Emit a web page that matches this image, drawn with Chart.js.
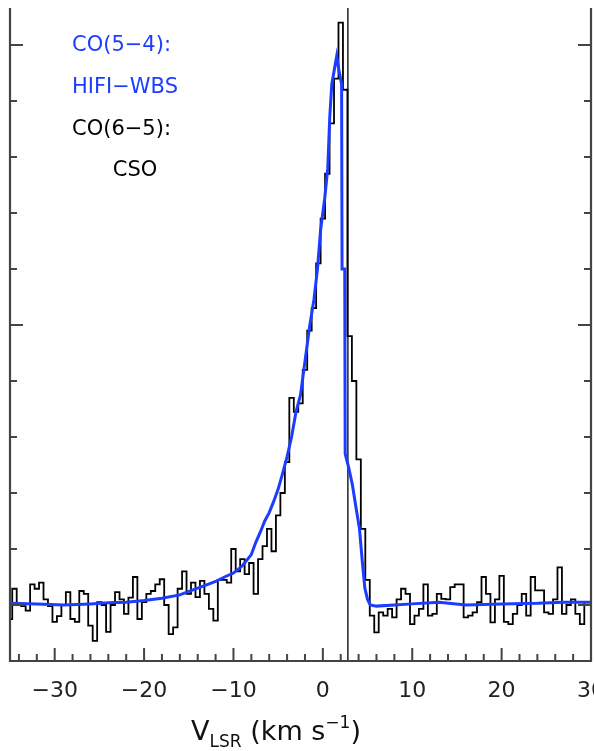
<!DOCTYPE html>
<html><head><meta charset="utf-8">
<script src="https://cdn.jsdelivr.net/npm/chart.js@4.4.1/dist/chart.umd.min.js"></script>
<style>html,body{margin:0;padding:0;background:#fff;}#wrap{width:594px;height:751px;position:relative;}</style>
</head><body><div id="wrap"><canvas id="c" width="594" height="751"></canvas></div>
<script>
// CSO CO(6-5) spectrum: channel grid start and width (km/s), intensities per channel
const csoStartVelocity = -35;
const csoChannelWidth = 0.5;
const csoIntensity = [
 -0.25, 0.29, 0.0, -0.02, -0.1, 0.37, 0.29, 0.4, 0.1, -0.02,
 -0.3, -0.2, 0.0, 0.23, -0.25, -0.3, 0.25, 0.2, -0.37, -0.64,
 0.05, 0.0, -0.48, 0.0, 0.23, 0.1, -0.16, 0.13, 0.5, -0.25,
 0.05, 0.2, 0.25, 0.37, 0.46, 0.0, -0.52, -0.4, 0.29, 0.6,
 0.2, 0.4, 0.14, 0.43, 0.2, -0.07, -0.28, 0.45, 0.45, 0.4,
 1.0, 0.6, 0.82, 0.55, 0.75, 0.2, 0.82, 1.05, 1.36, 0.96,
 1.6, 2.0, 2.55, 3.7, 3.45, 3.6, 4.2, 4.9, 5.3, 6.1,
 6.9, 7.7, 8.6, 9.4, 10.4, 9.2, 4.8, 4.0, 2.6, 1.36,
 0.45, -0.19, -0.49, -0.13, -0.19, -0.07, -0.22, 0.1, 0.29, 0.2,
 -0.34, -0.19, -0.07, 0.37, -0.19, -0.16, 0.2, 0.11, 0.1, 0.32,
 0.37, 0.37, -0.22, -0.19, -0.13, 0.05, 0.5, 0.2, -0.31, 0.1,
 0.52, -0.3, -0.34, -0.16, 0.0, 0.2, -0.19, 0.5, 0.26, 0.26,
 -0.13, -0.16, 0.1, 0.67, -0.16, 0.0, 0.1, -0.16, -0.34, 0.05,
 0.05
];
// HIFI-WBS CO(5-4) spectrum
const hifiVelocity = [-35,-32,-29,-26,-24,-22,-20,-18,-16,-14,-13,-12,-11,-10,-9,-8,-7.5,-7,-6.5,-6,-5.5,-5,-4.5,-4,-3.5,-3,-2.5,-2,-1.5,-1,-0.6,-0.25,0.2,0.55,0.77,1.0,1.55,1.8,2.1,2.15,2.45,2.5,2.9,3.3,3.7,4.1,4.4,4.7,5.0,5.3,6,8,10,13,16,20,24,27,30];
const hifiIntensity = [0.03,0.02,0.0,0.02,0.04,0.05,0.08,0.12,0.18,0.3,0.36,0.42,0.5,0.57,0.7,0.9,1.12,1.3,1.5,1.65,1.85,2.07,2.35,2.65,3.0,3.45,3.75,4.35,4.95,5.45,6.0,6.7,7.25,7.8,8.7,9.3,9.8,9.55,9.3,6.0,6.0,2.7,2.45,2.15,1.75,1.36,0.8,0.3,0.1,0.0,-0.02,0.0,0.02,0.05,0.0,0.02,0.03,0.05,0.05];

const xTickLabels = [-30, -20, -10, 0, 10, 20, 30];
const refVelocity = 2.8;
const blueColor = '#1c3cff';
const annotationLines = ['CO(5\u22124):', 'HIFI\u2212WBS', 'CO(6\u22125):', 'CSO'];
const annotationColors = [blueColor, blueColor, '#000', '#000'];

const csoPoints = csoIntensity.map((y, i) => ({x: csoStartVelocity + i * csoChannelWidth, y}));
const hifiPoints = hifiVelocity.map((x, i) => ({x, y: hifiIntensity[i]}));

const FONT = "'DejaVu Sans', sans-serif";

const decor = {
  id: 'decor',
  beforeDatasetsDraw(chart) {
    const {ctx, chartArea: a, scales: {x}} = chart;
    const px = x.getPixelForValue(refVelocity);
    ctx.save();
    ctx.strokeStyle = '#222'; ctx.lineWidth = 1.5;
    ctx.beginPath(); ctx.moveTo(px, a.top); ctx.lineTo(px, a.bottom); ctx.stroke();
    ctx.restore();
  },
  afterDraw(chart) {
    const {ctx, chartArea: a, scales: {x, y}} = chart;
    ctx.save();
    ctx.strokeStyle = '#444'; ctx.lineWidth = 2.2;
    ctx.beginPath();
    ctx.moveTo(a.left, a.top); ctx.lineTo(a.left, a.bottom); ctx.lineTo(a.right, a.bottom); ctx.lineTo(a.right, a.top);
    ctx.stroke();
    ctx.lineWidth = 2;
    ctx.beginPath();
    for (let v = -34; v <= 30; v += 2) {
      const px = x.getPixelForValue(v);
      const len = (v % 10 === 0) ? 13 : 7;
      ctx.moveTo(px, a.bottom); ctx.lineTo(px, a.bottom - len);
    }
    for (let v = -1; v <= 10; v += 1) {
      const py = y.getPixelForValue(v);
      const len = (v % 5 === 0) ? 13 : 7;
      ctx.moveTo(a.left, py); ctx.lineTo(a.left + len, py);
      ctx.moveTo(a.right, py); ctx.lineTo(a.right - len, py);
    }
    ctx.stroke();

    // annotation text
    ctx.font = '21px ' + FONT;
    ctx.textBaseline = 'middle';
    const lineY = [46, 88, 130, 171];
    annotationLines.forEach((t, i) => {
      ctx.fillStyle = annotationColors[i];
      ctx.textAlign = i === 3 ? 'center' : 'left';
      ctx.fillText(t, i === 3 ? 135 : 72, lineY[i]);
    });

    // axis title V_LSR (km s^-1)
    const parts = [
      {t: 'V', f: 27, dy: 0},
      {t: 'LSR', f: 17, dy: 7},
      {t: ' (km s', f: 27, dy: 0},
      {t: '\u22121', f: 17, dy: -12},
      {t: ')', f: 27, dy: 0}
    ];
    let total = 0;
    parts.forEach(p => { ctx.font = p.f + 'px ' + FONT; p.w = ctx.measureText(p.t).width; total += p.w; });
    let cx = 276 - total / 2;
    const base = 740;
    ctx.fillStyle = '#111'; ctx.textAlign = 'left'; ctx.textBaseline = 'alphabetic';
    parts.forEach(p => { ctx.font = p.f + 'px ' + FONT; ctx.fillText(p.t, cx, base + p.dy); cx += p.w; });
    ctx.restore();
  }
};

new Chart(document.getElementById('c'), {
  type: 'line',
  data: {
    datasets: [
      {label: 'CO(5-4) HIFI-WBS', data: hifiPoints, borderColor: blueColor, borderWidth: 3, pointRadius: 0, tension: 0, fill: false},
      {label: 'CO(6-5) CSO', data: csoPoints, borderColor: '#000', borderWidth: 1.8, pointRadius: 0, stepped: 'middle', fill: false}
    ]
  },
  options: {
    responsive: false, animation: false, devicePixelRatio: 1,
    layout: {padding: {left: 10, right: 3, top: 8, bottom: 0}},
    plugins: {legend: {display: false}, tooltip: {enabled: false}},
    scales: {
      x: {
        type: 'linear', min: -35, max: 30, position: 'bottom',
        grid: {display: false}, border: {display: false},
        ticks: {font: {family: FONT, size: 22}, color: '#222', padding: 9, maxRotation: 0,
          callback: v => (v < 0 ? '\u2212' + Math.abs(v) : String(v))},
        afterBuildTicks: s => { s.ticks = xTickLabels.map(v => ({value: v})); },
        afterFit: s => { s.height = 90; s.paddingLeft = 0; s.paddingRight = 0; }
      },
      y: {type: 'linear', min: -1, max: 10.66, display: false}
    }
  },
  plugins: [decor]
});
</script></body></html>
